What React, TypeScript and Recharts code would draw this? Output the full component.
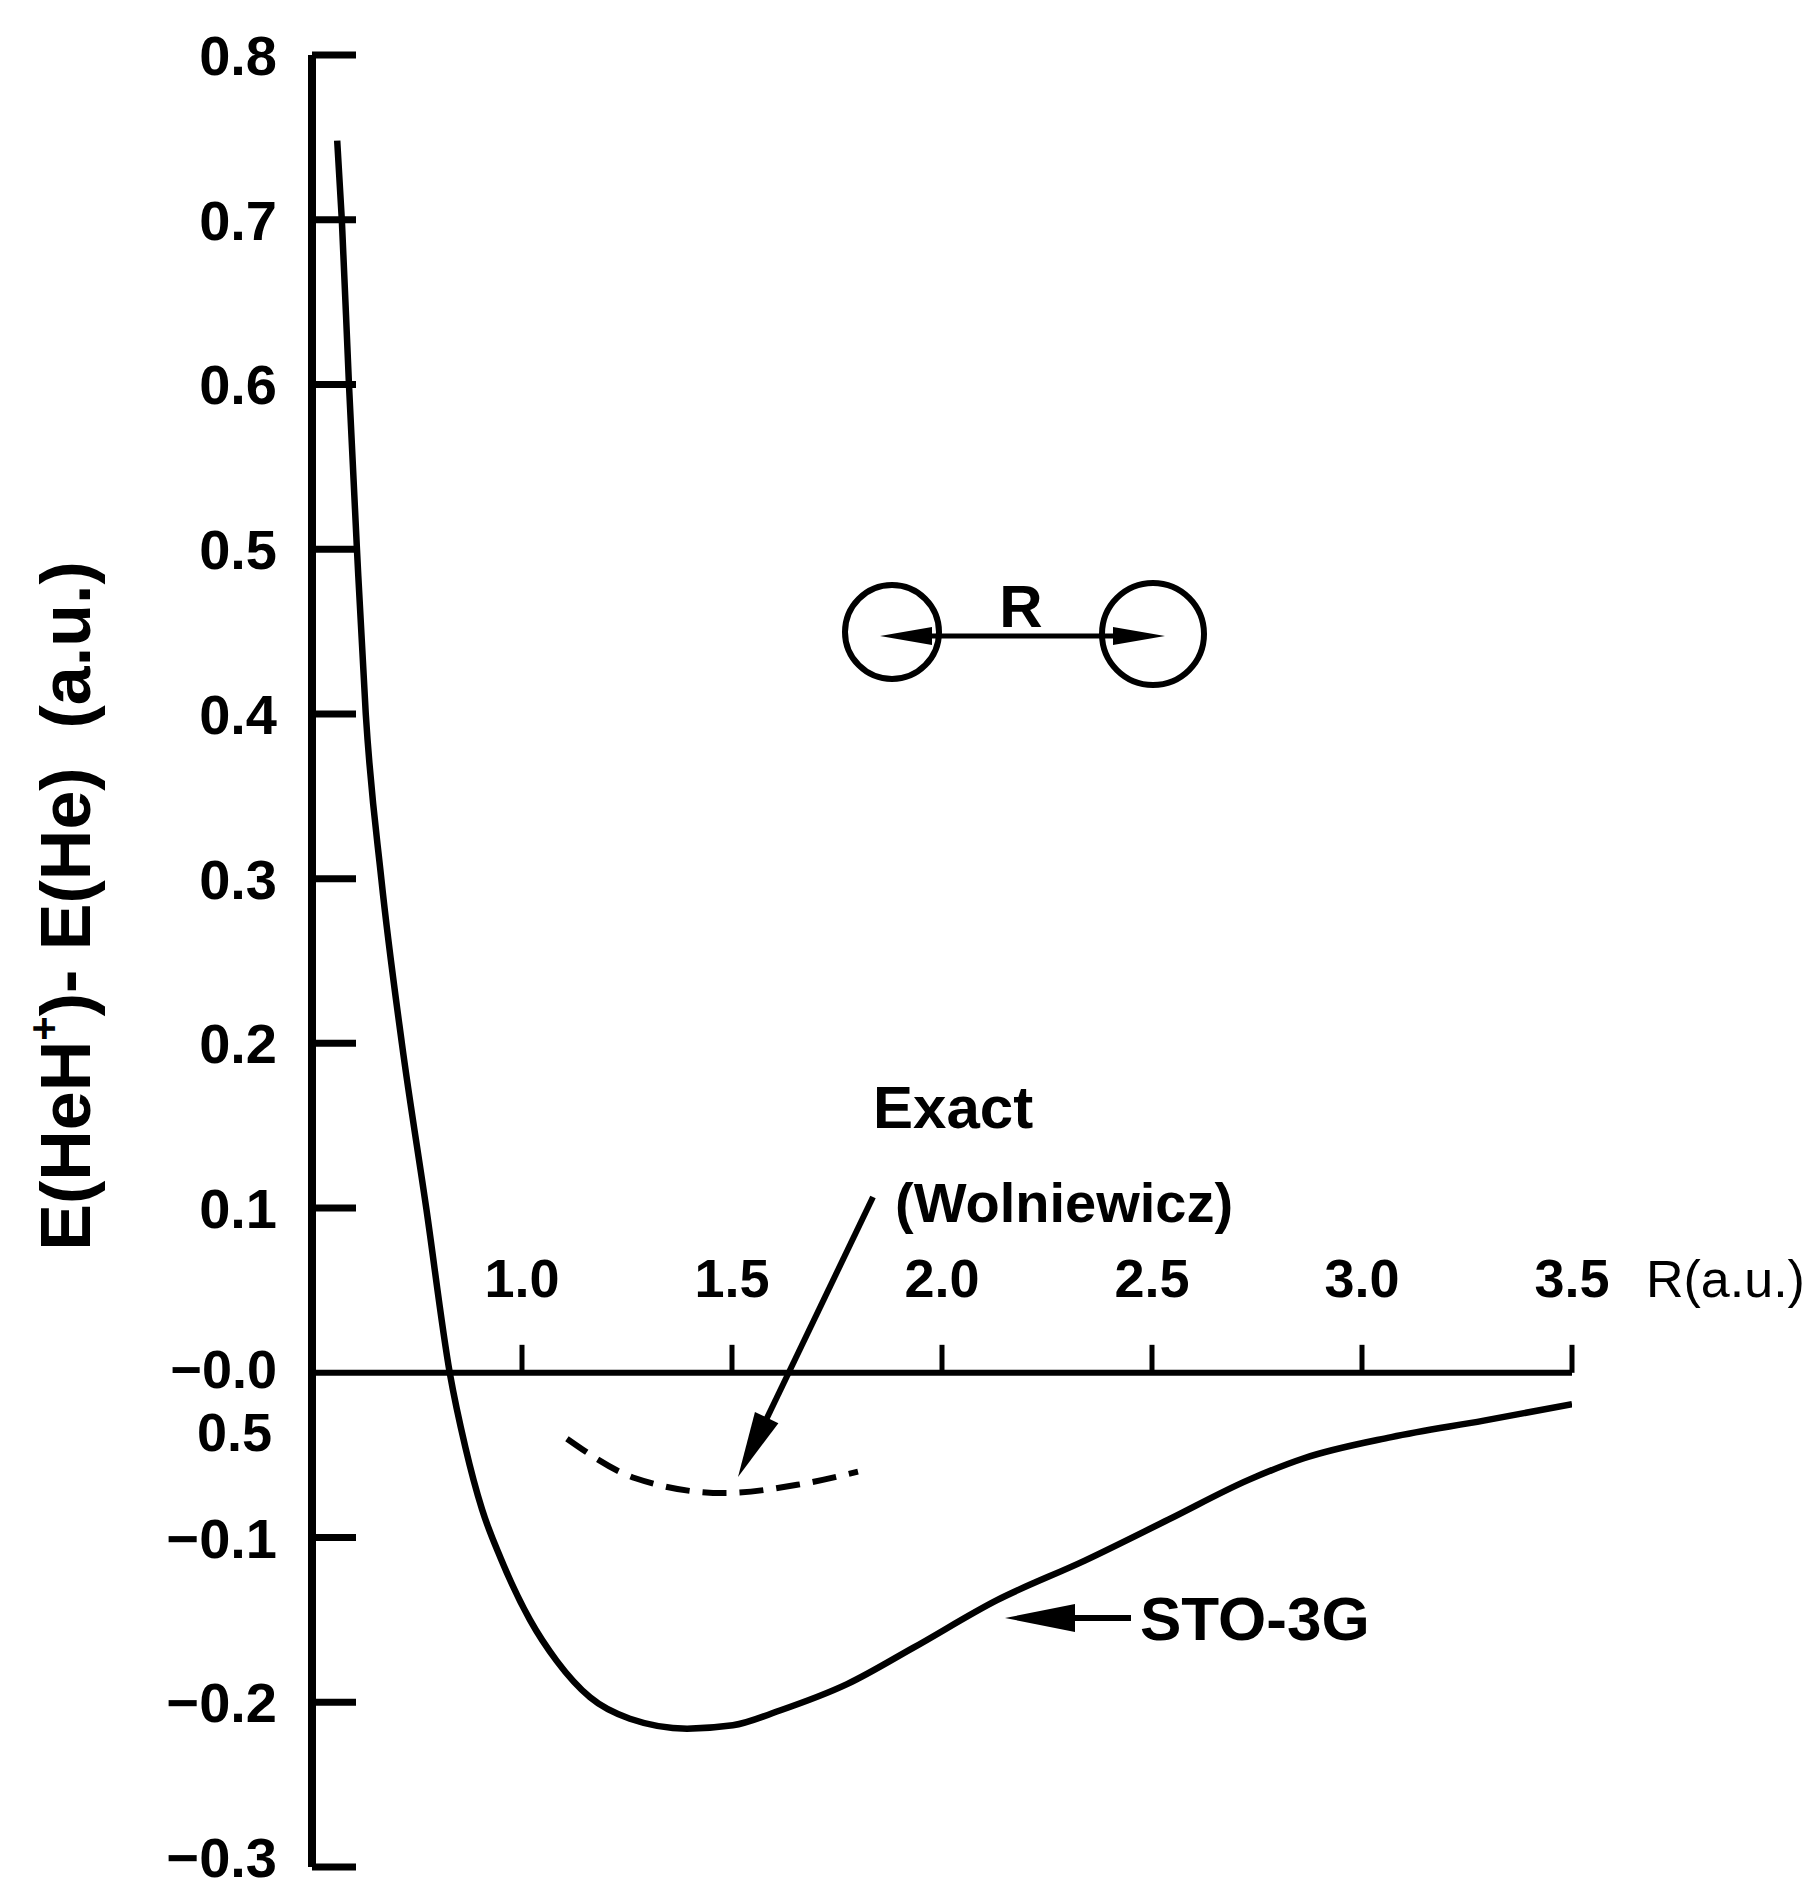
import { LineChart, Line, XAxis, YAxis, ReferenceLine } from 'recharts';

const FONT = '"Liberation Sans", Arial, sans-serif';

// STO-3G curve, R (a.u.) vs E(HeH+) - E(He) (a.u.)
const stoR = [0.56, 0.571, 0.588, 0.607, 0.628, 0.665, 0.714, 0.772, 0.828, 0.865, 0.905, 0.95, 1.019, 1.083, 1.162, 1.257, 1.393, 1.502, 1.614, 1.774, 1.931, 2.131, 2.34, 2.54, 2.73, 2.86, 3.07, 3.29, 3.5];
const stoE = [0.748, 0.7, 0.6, 0.5, 0.4, 0.3, 0.2, 0.1, 0.0, -0.045, -0.083, -0.113, -0.15, -0.175, -0.197, -0.21, -0.216, -0.214, -0.205, -0.189, -0.167, -0.138, -0.114, -0.089, -0.065, -0.052, -0.039, -0.029, -0.019];

// Exact (Wolniewicz), dashed
const exactR = [1.107, 1.27, 1.48, 1.655, 1.8];
const exactE = [-0.04, -0.064, -0.073, -0.068, -0.06];

const yTicks = [0.8, 0.7, 0.6, 0.5, 0.4, 0.3, 0.2, 0.1, 0, -0.1, -0.2, -0.3];
const yTickLabels = ['0.8', '0.7', '0.6', '0.5', '0.4', '0.3', '0.2', '0.1', '\u22120.0', '\u22120.1', '\u22120.2', '\u22120.3'];
const xTicks = [1.0, 1.5, 2.0, 2.5, 3.0, 3.5];
const xTickLabels = ['1.0', '1.5', '2.0', '2.5', '3.0', '3.5'];

const sto = stoR.map((r, i) => ({ r, e: stoE[i] }));
const exact = exactR.map((r, i) => ({ r, e: exactE[i] }));

function YTick(props: any) {
  const { x, y, payload } = props;
  const i = yTicks.indexOf(payload.value);
  const isZero = payload.value === 0;
  const isLast = i === yTicks.length - 1;
  const dy = isZero ? 15 : isLast ? 10 : 20;
  return (
    <g>
      {!isZero && <line x1={x} x2={x + 44} y1={y} y2={y} stroke="#000" strokeWidth={7} />}
      <text x={x - 35} y={y + dy} textAnchor="end" fontFamily={FONT} fontWeight="bold" fontSize={isZero ? 54 : 56} fill="#000">
        {yTickLabels[i]}
      </text>
      {isZero && (
        <text x={x - 40} y={y + 78} textAnchor="end" fontFamily={FONT} fontWeight="bold" fontSize={54} fill="#000">
          0.5
        </text>
      )}
    </g>
  );
}

function head(tipX: number, tipY: number, fromX: number, fromY: number, len: number, half: number) {
  const dx = tipX - fromX;
  const dy = tipY - fromY;
  const l = Math.hypot(dx, dy);
  const ux = dx / l;
  const uy = dy / l;
  const bx = tipX - ux * len;
  const by = tipY - uy * len;
  return `${tipX},${tipY} ${bx - uy * half},${by + ux * half} ${bx + uy * half},${by - ux * half}`;
}

function Annotations() {
  const txt = { fontFamily: FONT, fontWeight: 'bold' as const, fill: '#000' };
  return (
    <svg width={1813} height={1891} style={{ position: 'absolute', left: 0, top: 0, pointerEvents: 'none' }}>
      {/* axis title */}
      <text x={90} y={906} transform="rotate(-90 90 906)" textAnchor="middle" fontSize={70} {...txt}>
        E(HeH<tspan dy={-32} fontSize={42}>+</tspan><tspan dy={32}>)- E(He){'\u00a0\u00a0'}(a.u.)</tspan>
      </text>
      <text x={1646} y={1297} fontSize={52} fontFamily={FONT} fill="#000">R(a.u.)</text>

      {/* molecule sketch */}
      <circle cx={892} cy={632} r={47} fill="none" stroke="#000" strokeWidth={6} />
      <circle cx={1153} cy={634} r={51} fill="none" stroke="#000" strokeWidth={6} />
      <line x1={920} y1={636} x2={1125} y2={636} stroke="#000" strokeWidth={5} />
      <polygon points={head(880, 636, 1000, 636, 52, 9)} fill="#000" />
      <polygon points={head(1165, 636, 1000, 636, 52, 9)} fill="#000" />
      <text x={1021} y={627} textAnchor="middle" fontSize={60} {...txt}>R</text>

      {/* Exact label and arrow */}
      <text x={873} y={1128} fontSize={60} {...txt}>Exact</text>
      <text x={895} y={1222} fontSize={56} {...txt}>(Wolniewicz)</text>
      <line x1={873} y1={1197} x2={766} y2={1420} stroke="#000" strokeWidth={6} />
      <polygon points={head(738, 1477, 873, 1197, 66, 13)} fill="#000" />

      {/* STO-3G label and arrow */}
      <line x1={1131} y1={1618} x2={1060} y2={1618} stroke="#000" strokeWidth={6} />
      <polygon points={head(1005, 1618, 1131, 1618, 70, 14)} fill="#000" />
      <text x={1140} y={1640} fontSize={62} {...txt}>STO-3G</text>
    </svg>
  );
}

export default function App() {
  return (
    <div style={{ position: 'absolute', left: 0, top: 0, width: 1813, height: 1891, background: '#fff', fontFamily: FONT }}>
      <LineChart width={1813} height={1891} margin={{ top: 55, right: 241, bottom: 24, left: 0 }}>
        <XAxis type="number" dataKey="r" domain={[0.5, 3.5]} allowDataOverflow hide />
        <YAxis
          type="number"
          domain={[-0.3, 0.8]}
          ticks={yTicks}
          interval={0}
          width={312}
          tickSize={0}
          tickMargin={0}
          tickLine={false}
          axisLine={{ stroke: '#000', strokeWidth: 8 }}
          tick={<YTick />}
        />
        <ReferenceLine y={0} stroke="#000" strokeWidth={6} />
        {xTicks.map((t, i) => (
          <ReferenceLine
            key={t}
            segment={[{ x: t, y: 0 }, { x: t, y: 0.017 }]}
            stroke="#000"
            strokeWidth={5}
            label={{ value: xTickLabels[i], position: 'top', offset: 48, fontSize: 54, fontWeight: 'bold', fill: '#000', fontFamily: FONT }}
          />
        ))}
        <Line data={sto} dataKey="e" type="monotone" stroke="#000" strokeWidth={6.5} dot={false} isAnimationActive={false} />
        <Line data={exact} dataKey="e" type="monotone" stroke="#000" strokeWidth={6} strokeDasharray="24 13" dot={false} isAnimationActive={false} />
      </LineChart>
      <Annotations />
    </div>
  );
}
